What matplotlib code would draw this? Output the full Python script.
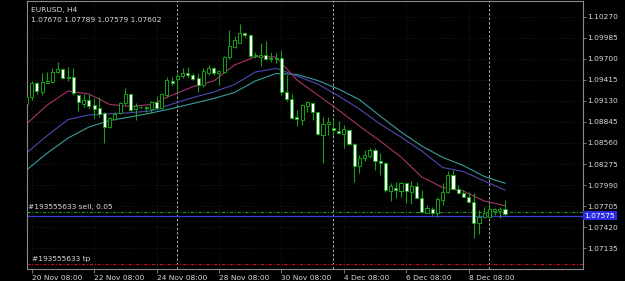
import matplotlib
matplotlib.use("Agg")
import matplotlib.pyplot as plt
import matplotlib.transforms as mtransforms
import numpy as np

# EURUSD H4, bars from 20 Nov 04:00 to 11 Dec 12:00
opens = [
    1.09088, 1.09187, 1.09368, 1.09254, 1.09376, 1.09381, 1.09517, 1.09561, 1.09449, 1.09449,
    1.09210, 1.09088, 1.09142, 1.09074, 1.09030, 1.08962, 1.08781, 1.08885, 1.08962, 1.09097,
    1.09223, 1.09020, 1.09051, 1.09047, 1.09016, 1.09119, 1.09030, 1.09210, 1.09403, 1.09422,
    1.09467, 1.09503, 1.09480, 1.09436, 1.09345, 1.09511, 1.09571, 1.09503, 1.09525, 1.09720,
    1.09863, 1.09917, 1.10053, 1.10021, 1.09751, 1.09728, 1.09755, 1.09706, 1.09706, 1.09710,
    1.09244, 1.09156, 1.08905, 1.08865, 1.09065, 1.09097, 1.08973, 1.08669, 1.08813, 1.08767,
    1.08722, 1.08678, 1.08736, 1.08542, 1.08253, 1.08353, 1.08388, 1.08466, 1.08317, 1.08286,
    1.07914, 1.07955, 1.07914, 1.08015, 1.07901, 1.07978, 1.07812, 1.07617, 1.07667, 1.07609,
    1.07789, 1.07901, 1.08127, 1.07934, 1.07879, 1.07834, 1.07766, 1.07474, 1.07555, 1.07563,
    1.07644, 1.07644, 1.07670]
highs = [
    1.09210, 1.09399, 1.09390, 1.09503, 1.09517, 1.09571, 1.09652, 1.09571, 1.09593, 1.09579,
    1.09219, 1.09219, 1.09219, 1.09173, 1.09187, 1.08984, 1.08916, 1.08984, 1.09119, 1.09300,
    1.09233, 1.09097, 1.09061, 1.09061, 1.09133, 1.09196, 1.09233, 1.09457, 1.09457, 1.09503,
    1.09571, 1.09593, 1.09503, 1.09503, 1.09571, 1.09615, 1.09593, 1.09548, 1.09737, 1.10089,
    1.10008, 1.10170, 1.10066, 1.10035, 1.09791, 1.09917, 1.09944, 1.09795, 1.09774, 1.09818,
    1.09480, 1.09219, 1.09007, 1.09088, 1.09128, 1.09119, 1.08984, 1.08916, 1.08916, 1.08871,
    1.08858, 1.08804, 1.08749, 1.08560, 1.08397, 1.08466, 1.08488, 1.08493, 1.08421, 1.08303,
    1.08015, 1.08037, 1.08037, 1.08023, 1.08050, 1.08037, 1.07924, 1.07721, 1.07698, 1.07834,
    1.08015, 1.08185, 1.08195, 1.07992, 1.07924, 1.07901, 1.07887, 1.07654, 1.07698, 1.07752,
    1.07678, 1.07698, 1.07789]
lows = [
    1.09061, 1.09142, 1.09219, 1.09210, 1.09368, 1.09368, 1.09503, 1.09426, 1.09399, 1.09210,
    1.08993, 1.09051, 1.09020, 1.08894, 1.08916, 1.08560, 1.08767, 1.08871, 1.08948, 1.09074,
    1.08993, 1.08871, 1.09034, 1.08980, 1.08970, 1.09007, 1.09016, 1.09187, 1.09345, 1.09254,
    1.09436, 1.09457, 1.09413, 1.09254, 1.09322, 1.09480, 1.09480, 1.09345, 1.09503, 1.09693,
    1.09842, 1.09909, 1.09998, 1.09720, 1.09710, 1.09602, 1.09683, 1.09660, 1.09639, 1.09210,
    1.09122, 1.08881, 1.08790, 1.08804, 1.08984, 1.08871, 1.08669, 1.08290, 1.08669, 1.08669,
    1.08682, 1.08496, 1.08533, 1.08036, 1.08150, 1.08317, 1.08357, 1.08195, 1.08127, 1.07901,
    1.07779, 1.07812, 1.07834, 1.07753, 1.07735, 1.07798, 1.07609, 1.07609, 1.07586, 1.07563,
    1.07721, 1.07888, 1.07924, 1.07870, 1.07825, 1.07744, 1.07275, 1.07329, 1.07545, 1.07555,
    1.07586, 1.07541, 1.07579]
closes = [
    1.09183, 1.09368, 1.09264, 1.09381, 1.09403, 1.09517, 1.09561, 1.09436, 1.09440, 1.09233,
    1.09111, 1.09142, 1.09065, 1.09020, 1.08948, 1.08781, 1.08894, 1.08948, 1.09097, 1.09219,
    1.09007, 1.09061, 1.09043, 1.09027, 1.09119, 1.09030, 1.09223, 1.09413, 1.09368, 1.09467,
    1.09503, 1.09480, 1.09426, 1.09345, 1.09538, 1.09571, 1.09503, 1.09534, 1.09728, 1.09873,
    1.09954, 1.10053, 1.10021, 1.09737, 1.09737, 1.09755, 1.09692, 1.09692, 1.09692, 1.09244,
    1.09156, 1.08892, 1.08885, 1.09074, 1.09111, 1.08973, 1.08678, 1.08813, 1.08840, 1.08736,
    1.08691, 1.08749, 1.08542, 1.08253, 1.08361, 1.08397, 1.08466, 1.08321, 1.08286, 1.07924,
    1.07978, 1.07924, 1.08015, 1.07914, 1.07978, 1.07812, 1.07630, 1.07677, 1.07617, 1.07798,
    1.07901, 1.08127, 1.07934, 1.07879, 1.07834, 1.07766, 1.07474, 1.07555, 1.07617, 1.07663,
    1.07663, 1.07663, 1.07602]

# moving averages read every 4th bar
ma_bars = list(range(0, 93, 4))
ma_fast = [1.08817, 1.09074, 1.09263, 1.09223, 1.09081, 1.09054, 1.09081, 1.09209,
           1.09321, 1.09399, 1.09615, 1.09727, 1.09723, 1.09412, 1.09209, 1.09006,
           1.08790, 1.08587, 1.08370, 1.08100, 1.07958, 1.07910, 1.07775, 1.07711]
ma_mid = [1.08424, 1.08661, 1.08878, 1.08939, 1.08955, 1.08970, 1.08995, 1.09087,
          1.09175, 1.09250, 1.09351, 1.09520, 1.09570, 1.09466, 1.09358, 1.09196,
          1.09020, 1.08817, 1.08641, 1.08452, 1.08228, 1.08174, 1.08046, 1.07924]
ma_slow = [1.08194, 1.08424, 1.08627, 1.08776, 1.08864, 1.08912, 1.08966, 1.09027,
           1.09094, 1.09162, 1.09243, 1.09399, 1.09500, 1.09487, 1.09405, 1.09290,
           1.09148, 1.08925, 1.08709, 1.08519, 1.08366, 1.08255, 1.08107, 1.08015]

date_bars = [1, 13, 25, 37, 49, 61, 73, 85]
date_labels = ["20 Nov 08:00", "22 Nov 08:00", "24 Nov 08:00", "28 Nov 08:00",
               "30 Nov 08:00", "4 Dec 08:00", "6 Dec 08:00", "8 Dec 08:00"]
week_bars = [29, 59, 89]
price_ticks = [1.07135, 1.07420, 1.07705, 1.07990, 1.08275, 1.08560,
               1.08845, 1.09130, 1.09415, 1.09700, 1.09985, 1.10270]

sell_price = 1.07622
bid_price = 1.07575
tp_price = 1.06918

GREEN = "#16a016"
TXT = "#d8d8d8"
FS = 5.4

fig = plt.figure(figsize=(6.25, 2.81), dpi=100, facecolor="black")
ax = fig.add_axes([27 / 625, 12 / 281, 556 / 625, 268 / 281], facecolor="black")

x = np.arange(len(opens))
ax.set_xlim(0.1, 107.0)
ax.set_ylim(1.06855, 1.10481)

# grid and week separators
ax.set_xticks(date_bars)
ax.set_yticks(price_ticks)
ax.grid(True, color="#222222", linestyle=(0, (1, 2)), linewidth=0.6)
for wb in week_bars:
    ax.axvline(wb, color="#b0b0b0", linestyle=(0, (2.5, 2)), linewidth=0.7)

# moving averages
ax.plot(ma_bars, ma_slow, color="#3a9c9c", lw=0.8)
ax.plot(ma_bars, ma_mid, color="#4a4ab4", lw=0.8)
ax.plot(ma_bars, ma_fast, color="#a8336a", lw=0.8)

# trade / price lines
ax.axhline(sell_price, color=GREEN, linestyle=(0, (3, 1.5, 1, 1.5)), lw=0.8)
ax.axhline(bid_price, color="#3c3cd0", lw=0.9)
ax.axhline(tp_price, color="#d01010", linestyle=(0, (3, 1.5, 1, 1.5)), lw=0.8)

# candles
o = np.array(opens); c = np.array(closes)
ax.vlines(x, lows, highs, color=GREEN, lw=0.8, zorder=3)
fill = ["white" if cc < oo else "black" for oo, cc in zip(o, c)]
ax.bar(x, np.maximum(np.abs(c - o), 0.00002), bottom=np.minimum(o, c), width=0.6,
       color=fill, edgecolor=GREEN, linewidth=0.7, zorder=4)

for s in ax.spines.values():
    s.set_color("#8a8a8a")
    s.set_linewidth(0.8)

ax.yaxis.tick_right()
ax.set_yticklabels([f"{p:.5f}" for p in price_ticks])
ax.tick_params(axis="y", length=2, width=0.6, color="#8a8a8a", pad=1,
               labelsize=FS, labelcolor=TXT)
ax.set_xticklabels(date_labels)
ax.tick_params(axis="x", length=3, width=0.6, color="#8a8a8a", pad=1,
               labelsize=FS, labelcolor=TXT)
for lab in ax.get_xticklabels():
    lab.set_horizontalalignment("left")

# bid price box
trans = mtransforms.blended_transform_factory(ax.transAxes, ax.transData)
ax.text(1.003, bid_price, f"{bid_price:.5f}", transform=trans, fontsize=FS,
        color="white", va="center", ha="left", clip_on=False,
        bbox=dict(facecolor="#2a2ae6", edgecolor="none", pad=1.2))

# texts
fig.text(31 / 625, 1 - 10 / 281, "EURUSD, H4", fontsize=FS, color=TXT, va="center")
fig.text(31 / 625, 1 - 20 / 281, "1.07670 1.07789 1.07579 1.07602", fontsize=FS,
         color=TXT, va="center")
fig.text(28 / 625, 1 - 207 / 281, "#193555633 sell, 0.05", fontsize=FS, color=TXT,
         va="center")
fig.text(32 / 625, 1 - 259 / 281, "#193555633 tp", fontsize=FS, color=TXT, va="center")

fig.savefig("out.png", dpi=100, facecolor="black")
